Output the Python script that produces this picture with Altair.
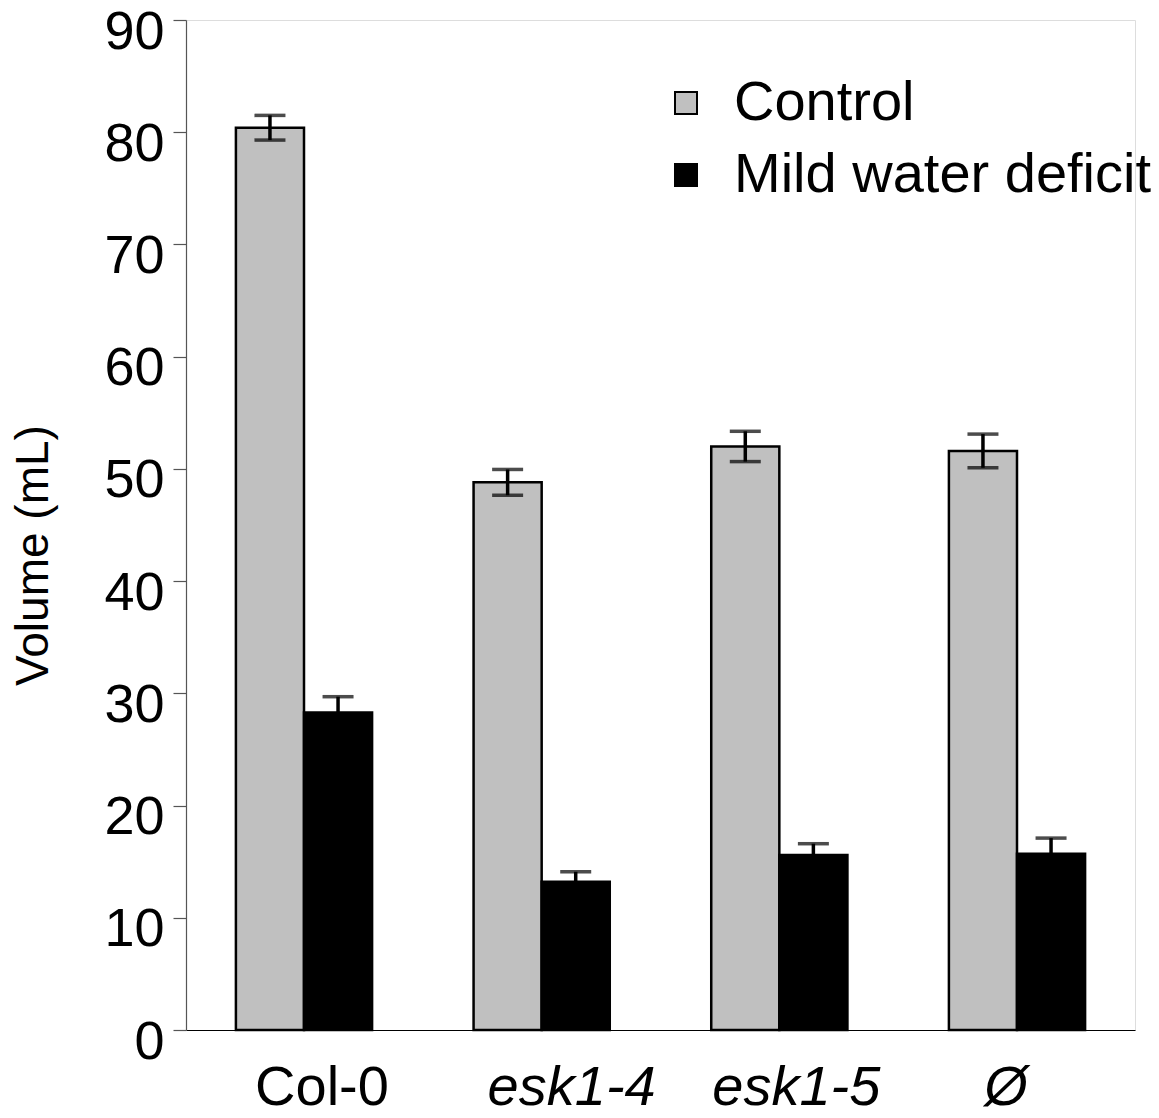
import altair as alt
import pandas as pd

genotypes = ["Col-0", "esk1-4", "esk1-5", "Ø"]
conditions = ["Control", "Mild water deficit"]
control_mean = [80.4, 48.8, 52.0, 51.6]
control_err = [1.1, 1.15, 1.35, 1.5]
deficit_mean = [28.3, 13.2, 15.6, 15.7]
deficit_err = [1.4, 0.9, 1.0, 1.4]
colors = ["#c0c0c0", "#000000"]

rows = []
caps = []
for i, g in enumerate(genotypes):
    c_lo = control_mean[i] - control_err[i]
    c_hi = control_mean[i] + control_err[i]
    d_hi = deficit_mean[i] + deficit_err[i]
    rows.append(dict(genotype=g, condition=conditions[0], mean=control_mean[i], lo=c_lo, hi=c_hi))
    rows.append(dict(genotype=g, condition=conditions[1], mean=deficit_mean[i], lo=deficit_mean[i], hi=d_hi))
    caps.append(dict(genotype=g, condition=conditions[0], cap=c_lo))
    caps.append(dict(genotype=g, condition=conditions[0], cap=c_hi))
    caps.append(dict(genotype=g, condition=conditions[1], cap=d_hi))
df = pd.DataFrame(rows)
dcaps = pd.DataFrame(caps)

FONT = "Liberation Sans"
YTITLE = "Volume (mL)"

x = alt.X(
    "genotype:N",
    sort=genotypes,
    scale=alt.Scale(paddingInner=0.427, paddingOuter=0.21),
    axis=alt.Axis(
        title=None,
        labelAngle=0,
        ticks=False,
        domainColor="black",
        domainWidth=1.2,
        labelFont=FONT,
        labelFontSize=56,
        labelColor="black",
        labelPadding=30,
        labelFontStyle={"condition": {"test": "datum.value == 'Col-0'", "value": "normal"}, "value": "italic"},
        labelOffset={
            "condition": [
                {"test": "datum.value == 'Col-0'", "value": 18},
                {"test": "datum.value == 'esk1-4'", "value": 30},
                {"test": "datum.value == 'esk1-5'", "value": 17},
            ],
            "value": -11,
        },
    ),
)
xo = alt.XOffset("condition:N", sort=conditions, scale=alt.Scale(paddingInner=0, paddingOuter=0))
yscale = alt.Scale(domain=[0, 90], nice=False, zero=True)

bars = alt.Chart(df).mark_bar(stroke="black", strokeWidth=2.5).encode(
    x=x,
    xOffset=xo,
    y=alt.Y(
        "mean:Q",
        scale=yscale,
        title=YTITLE,
        axis=alt.Axis(
            values=list(range(0, 91, 10)),
            grid=False,
            domainColor="#555555",
            domainWidth=1.2,
            tickColor="#555555",
            tickWidth=1.2,
            tickSize=13,
            labelFont=FONT,
            labelFontSize=54,
            labelColor="black",
            labelPadding=9,
            labelOffset=12,
            labelBaseline="middle",
            titleFont=FONT,
            titleFontSize=46,
            titleFontWeight="normal",
            titleColor="black",
            titleAngle=270,
            titleX=-153,
            titleY=535,
            titleAlign="center",
            titleBaseline="middle",
        ),
    ),
    color=alt.Color(
        "condition:N",
        sort=conditions,
        scale=alt.Scale(domain=conditions, range=colors),
        legend=alt.Legend(
            title=None,
            orient="none",
            legendX=472,
            legendY=55,
            direction="vertical",
            symbolType="square",
            symbolSize=484,
            symbolStrokeColor="black",
            symbolStrokeWidth=2,
            symbolOpacity=1,
            labelFont=FONT,
            labelFontSize=56,
            labelColor="black",
            labelOffset=20,
            labelLimit=0,
            rowPadding=16,
            padding=0,
        ),
    ),
)

rules = alt.Chart(df).mark_rule(color="black", strokeWidth=3.5).encode(
    x=x,
    xOffset=xo,
    y=alt.Y("lo:Q", scale=yscale, title=YTITLE),
    y2="hi:Q",
)

ticks = alt.Chart(dcaps).mark_tick(color="black", size=31, thickness=3.5).encode(
    x=x,
    xOffset=xo,
    y=alt.Y("cap:Q", scale=yscale, title=YTITLE),
)

chart = (
    alt.layer(bars, rules, ticks)
    .properties(
        width=949,
        height=1010,
        autosize=alt.AutoSizeParams(type="none"),
        padding={"left": 178, "top": 12, "right": 16, "bottom": 88},
    )
    .configure_view(stroke=None)
    .configure(background="white")
)

chart.save("out.html", embed_options={"renderer": "svg", "actions": False})
